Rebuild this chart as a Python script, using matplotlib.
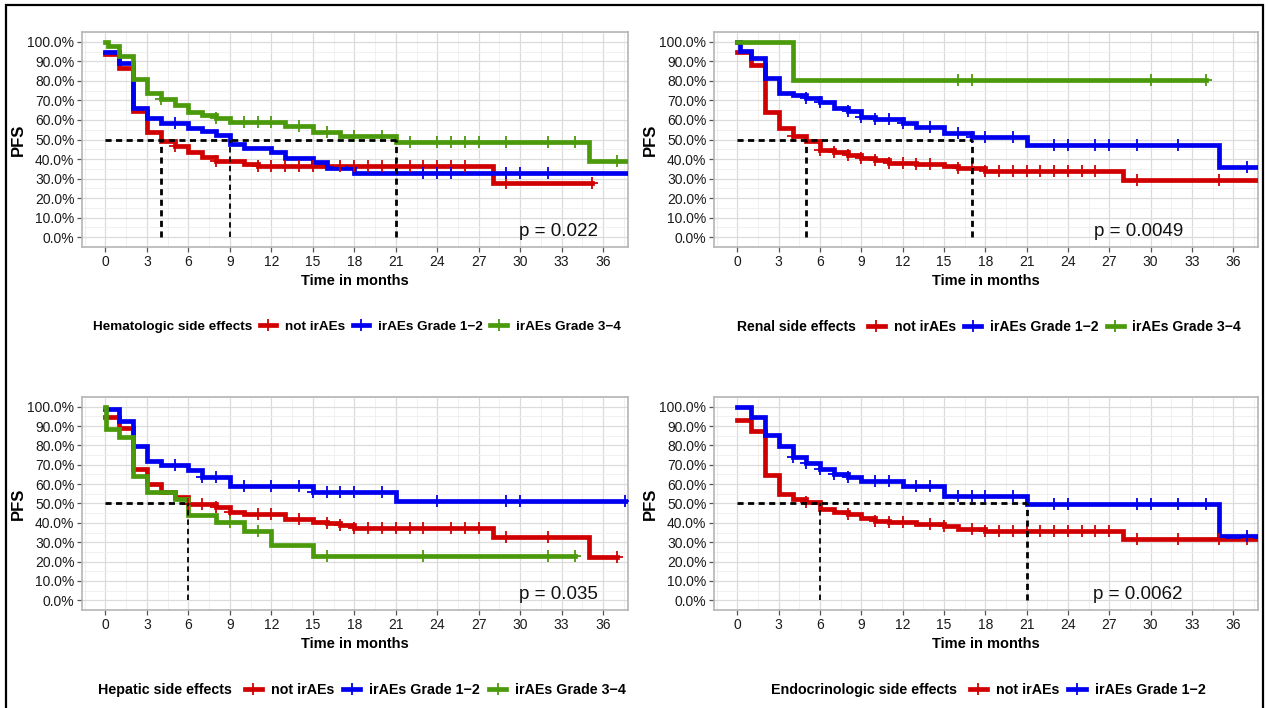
import matplotlib
matplotlib.use("Agg")
import matplotlib.pyplot as plt
from matplotlib.lines import Line2D
from matplotlib.patches import Rectangle
from matplotlib.ticker import PercentFormatter, MultipleLocator
import numpy as np

plt.rcParams['font.family'] = ['Liberation Sans', 'DejaVu Sans']

RED = '#D10000'
BLUE = '#0000F0'
GREEN = '#4B9A0C'

# ---------------- Data ----------------
# Each curve: step times, survival after each step, end time, censor times
# Panel 1: Hematologic
hem_red_t = [0, 1, 2, 3, 4, 5, 6, 7, 8, 10, 11, 28]
hem_red_s = [0.935, 0.867, 0.646, 0.536, 0.493, 0.468, 0.434, 0.408, 0.391, 0.374, 0.366, 0.277]
hem_red_end = 35.2
hem_red_c = [5, 8, 11, 12, 13, 14, 15, 17, 18, 19, 20, 21, 22, 23, 24, 25, 26, 29, 35.2]

hem_blue_t = [0, 1, 2, 3, 4, 6, 7, 8, 9, 10, 12, 13, 15, 16, 18]
hem_blue_s = [0.947, 0.893, 0.663, 0.612, 0.582, 0.561, 0.544, 0.522, 0.476, 0.454, 0.434, 0.405, 0.383, 0.352, 0.328]
hem_blue_end = 38.0
hem_blue_c = [5, 23, 24, 25, 29, 30, 32]

hem_green_t = [0, 0.15, 1, 2, 3, 4, 5, 6, 7, 8, 9, 13, 15, 17, 21, 35]
hem_green_s = [1.0, 0.978, 0.927, 0.811, 0.736, 0.706, 0.675, 0.641, 0.624, 0.612, 0.587, 0.570, 0.536, 0.519, 0.488, 0.391]
hem_green_end = 38.0
hem_green_c = [4, 8, 10, 11, 12, 14, 16, 18, 20, 22, 24, 25, 26, 27, 29, 32, 34, 37]

hem_medians = [4, 9, 21]
hem_median_thin = [False, True, False]
hem_p = "p = 0.022"

# Panel 2: Renal
ren_red_t = [0, 1, 2, 3, 4, 5, 6, 7, 8, 9, 10, 11, 13, 15, 16, 18, 28]
ren_red_s = [0.947, 0.881, 0.639, 0.557, 0.516, 0.494, 0.448, 0.434, 0.421, 0.404, 0.395, 0.382, 0.377, 0.365, 0.353, 0.341, 0.293]
ren_red_end = 38.0
ren_red_c = [4, 6, 7, 8, 9, 10, 11, 12, 13, 14, 16, 17, 18, 19, 20, 21, 22, 23, 24, 25, 26, 29, 35]

ren_blue_t = [0, 0.2, 1, 2, 3, 4, 5, 6, 7, 8, 9, 10, 12, 13, 15, 17, 21, 35]
ren_blue_s = [1.0, 0.952, 0.918, 0.816, 0.739, 0.730, 0.714, 0.692, 0.663, 0.646, 0.617, 0.607, 0.586, 0.566, 0.533, 0.511, 0.474, 0.361]
ren_blue_end = 38.0
ren_blue_c = [5, 6, 8, 9, 10, 11, 12, 14, 16, 17, 18, 20, 23, 24, 26, 27, 29, 32, 37]

ren_green_t = [0, 4]
ren_green_s = [1.0, 0.804]
ren_green_end = 34.0
ren_green_c = [16, 17, 30, 34]

ren_medians = [5, 17]
ren_median_thin = [False, False]
ren_p = "p = 0.0049"

# Panel 3: Hepatic
hep_red_t = [0, 1, 2, 3, 4, 5, 6, 8, 9, 10, 13, 15, 16, 17, 18, 28, 35]
hep_red_s = [0.949, 0.889, 0.680, 0.599, 0.557, 0.531, 0.497, 0.480, 0.458, 0.446, 0.421, 0.407, 0.399, 0.390, 0.376, 0.327, 0.225]
hep_red_end = 37.0
hep_red_c = [6, 7, 8, 9, 11, 12, 14, 16, 17, 18, 19, 20, 21, 22, 23, 25, 26, 27, 29, 32, 37]

hep_blue_t = [0, 1, 2, 3, 4, 6, 7, 9, 15, 21]
hep_blue_s = [0.986, 0.928, 0.796, 0.719, 0.697, 0.673, 0.637, 0.591, 0.560, 0.513]
hep_blue_end = 38.0
hep_blue_c = [5, 7, 8, 10, 12, 14, 15, 16, 17, 18, 20, 24, 29, 30, 37.6]

hep_green_t = [0, 0.05, 1, 2, 3, 5, 6, 8, 10, 12, 15]
hep_green_s = [1.0, 0.884, 0.843, 0.642, 0.557, 0.523, 0.441, 0.404, 0.356, 0.288, 0.230]
hep_green_end = 34.0
hep_green_c = [9, 11, 16, 23, 32, 34]

hep_medians = [6]
hep_median_thin = [True]
hep_p = "p = 0.035"

# Panel 4: Endocrinologic
end_red_t = [0, 1, 2, 3, 4, 5, 6, 7, 8, 9, 10, 11, 13, 15, 16, 18, 28]
end_red_s = [0.932, 0.872, 0.646, 0.549, 0.523, 0.509, 0.472, 0.458, 0.446, 0.424, 0.412, 0.404, 0.392, 0.383, 0.370, 0.356, 0.315]
end_red_end = 38.0
end_red_c = [5, 8, 10, 11, 12, 14, 15, 17, 18, 19, 20, 21, 22, 23, 24, 25, 26, 27, 29, 32, 35, 37]

end_blue_t = [0, 1, 2, 3, 4, 5, 6, 7, 8, 9, 12, 15, 21, 35]
end_blue_s = [1.0, 0.945, 0.855, 0.799, 0.741, 0.710, 0.680, 0.651, 0.639, 0.617, 0.591, 0.540, 0.497, 0.332]
end_blue_end = 38.0
end_blue_c = [4, 5, 6, 7, 8, 10, 11, 13, 14, 16, 17, 18, 20, 23, 24, 29, 30, 32, 34, 37]

end_medians = [6, 21]
end_median_thin = [True, False]
end_p = "p = 0.0062"

legend_labels = ["not irAEs", "irAEs Grade 1\u22122", "irAEs Grade 3\u22124"]

panels = [
    dict(title="Hematologic side effects",
         curves=[(hem_red_t, hem_red_s, hem_red_end, hem_red_c, RED),
                 (hem_blue_t, hem_blue_s, hem_blue_end, hem_blue_c, BLUE),
                 (hem_green_t, hem_green_s, hem_green_end, hem_green_c, GREEN)],
         medians=hem_medians, thin=hem_median_thin, p=hem_p, px=32.8,
         leg=dict(x=0.480, y=-0.372, fs=9.7, tp=0.7, cs=0.55, pad='')),
    dict(title="Renal side effects",
         curves=[(ren_red_t, ren_red_s, ren_red_end, ren_red_c, RED),
                 (ren_blue_t, ren_blue_s, ren_blue_end, ren_blue_c, BLUE),
                 (ren_green_t, ren_green_s, ren_green_end, ren_green_c, GREEN)],
         medians=ren_medians, thin=ren_median_thin, p=ren_p, px=29.1,
         leg=dict(x=0.482, y=-0.372, fs=10.1, tp=0.63, cs=0.6, pad=' ')),
    dict(title="Hepatic side effects",
         curves=[(hep_red_t, hep_red_s, hep_red_end, hep_red_c, RED),
                 (hep_blue_t, hep_blue_s, hep_blue_end, hep_blue_c, BLUE),
                 (hep_green_t, hep_green_s, hep_green_end, hep_green_c, GREEN)],
         medians=hep_medians, thin=hep_median_thin, p=hep_p, px=32.8,
         leg=dict(x=0.489, y=-0.376, fs=10.3, tp=0.63, cs=0.63, pad=' ')),
    dict(title="Endocrinologic side effects",
         curves=[(end_red_t, end_red_s, end_red_end, end_red_c, RED),
                 (end_blue_t, end_blue_s, end_blue_end, end_blue_c, BLUE)],
         medians=end_medians, thin=end_median_thin, p=end_p, px=29.1,
         leg=dict(x=0.480, y=-0.376, fs=10.3, tp=0.63, cs=0.63, pad=' ')),
]

W, H = 1268, 708
fig = plt.figure(figsize=(W / 100, H / 100), dpi=100)
fig.patch.set_facecolor('white')

# axes boxes in pixel coords (left, top, right, bottom)
boxes = [(82, 32, 628, 247), (714, 32, 1258, 247),
         (82, 397, 628, 610), (714, 397, 1258, 610)]


def surv_at(t, s, x):
    idx = np.searchsorted(np.asarray(t), x, side='right') - 1
    return np.asarray(s)[idx]


for panel, (l, t, r, b) in zip(panels, boxes):
    ax = fig.add_axes([l / W, 1 - b / H, (r - l) / W, (b - t) / H])
    ax.set_xlim(-1.7, 37.8)
    ax.set_ylim(-0.05, 1.05)
    ax.xaxis.set_major_locator(MultipleLocator(3))
    ax.xaxis.set_minor_locator(MultipleLocator(1.5))
    ax.yaxis.set_major_locator(MultipleLocator(0.1))
    ax.yaxis.set_minor_locator(MultipleLocator(0.05))
    ax.yaxis.set_major_formatter(PercentFormatter(1.0, decimals=1))
    ax.grid(which='major', color='#DCDCDC', lw=0.9)
    ax.grid(which='minor', color='#EEEEEE', lw=0.6)
    ax.set_axisbelow(True)
    for sp in ax.spines.values():
        sp.set_color('#B5B5B5')
        sp.set_linewidth(1.2)
    ax.tick_params(which='major', length=3.5, width=0.9, color='#555555',
                   labelsize=10, labelcolor='#1A1A1A', pad=2)
    ax.tick_params(which='minor', length=0)

    lg = panel['leg']
    handles = [Line2D([], [], color='none', label=panel['title'] + lg['pad'])]
    for i, (ct, cs, cend, cc, col) in enumerate(panel['curves']):
        xs = list(ct) + [cend]
        ys = list(cs) + [cs[-1]]
        ax.step(xs, ys, where='post', color=col, lw=3.4, solid_joinstyle='miter', zorder=3)
        cy = [surv_at(ct, cs, c) for c in cc]
        ax.plot(cc, cy, ls='none', marker='+', ms=9, mew=1.3, color=col, zorder=4)
        handles.append(Line2D([], [], color=col, lw=3.4, marker='+', ms=8, mew=1.3,
                              label=legend_labels[i]))

    # median dashed lines
    mmax = max(panel['medians'])
    ax.plot([0, mmax], [0.5, 0.5], color='black', ls=(0, (2.2, 1.6)), lw=2.0, zorder=5)
    for m, thin in zip(panel['medians'], panel['thin']):
        ax.plot([m, m], [0, 0.5], color='black', ls=(0, (3.0, 2.2)) if thin else (0, (2.2, 1.6)),
                lw=1.3 if thin else 2.0, zorder=5)

    ax.text(panel['px'], 0.03, panel['p'], ha='center', va='center', fontsize=13.5,
            color='#111111', zorder=6)
    ax.set_ylabel('PFS', fontsize=12, fontweight='bold', labelpad=1)
    ax.set_xlabel('Time in months', fontsize=10.5, fontweight='bold', labelpad=4)

    ax.legend(handles=handles, loc='center', bbox_to_anchor=(lg['x'], lg['y']),
              ncol=len(handles), frameon=False, handlelength=1.2,
              handletextpad=lg['tp'], columnspacing=lg['cs'],
              prop={'weight': 'bold', 'size': lg['fs']})

fig.add_artist(Rectangle((6 / W, -0.01), (1263 - 6) / W, 1 - 5 / H + 0.01,
                         transform=fig.transFigure, fill=False, ec='black', lw=1.6))

fig.savefig('out.png', dpi=100)
